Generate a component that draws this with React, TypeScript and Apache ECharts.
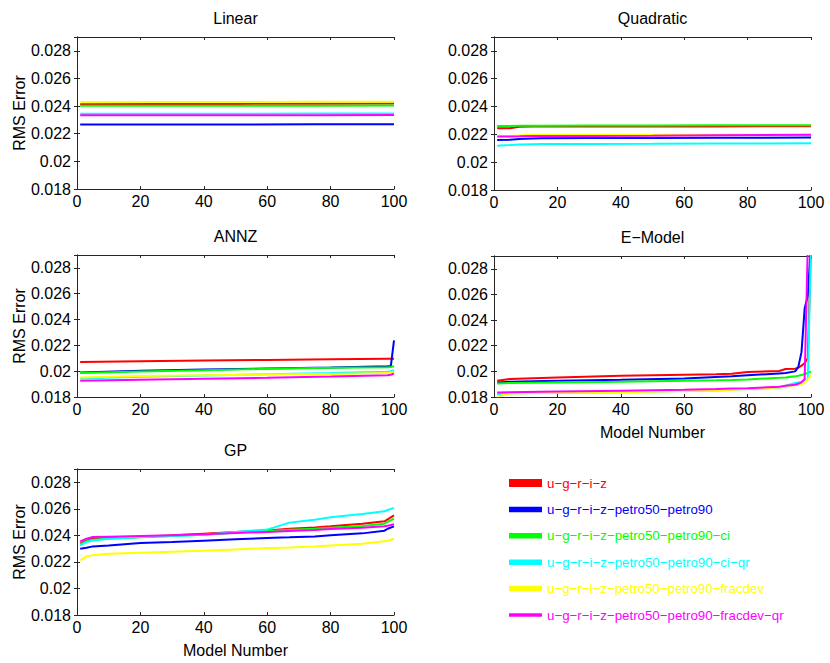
import React, { useEffect, useRef } from "react";
import * as echarts from "echarts";

const seriesNames = [
  "u−g−r−i−z",
  "u−g−r−i−z−petro50−petro90",
  "u−g−r−i−z−petro50−petro90−ci",
  "u−g−r−i−z−petro50−petro90−ci−qr",
  "u−g−r−i−z−petro50−petro90−fracdev",
  "u−g−r−i−z−petro50−petro90−fracdev−qr",
];
const seriesColors = ["#ff0000", "#0000ff", "#00ff00", "#00ffff", "#ffff00", "#ff00ff"];
const legendIcons = [
  "path://M0 0H33V8H0Z",
  "path://M0 0H33V5.5H0Z",
  "path://M0 0H33V5.5H0Z",
  "path://M0 0H33V5.5H0Z",
  "path://M0 0H33V5.5H0Z",
  "path://M0 0H33V3.3H0Z",
];

const panelTitles = ["Linear", "Quadratic", "ANNZ", "E−Model", "GP"];
const xTicks = [0, 20, 40, 60, 80, 100];
const yTicks = [0.018, 0.02, 0.022, 0.024, 0.026, 0.028];
const yMin = 0.018;
const yMax = 0.029;

// Linear
const linearX = [1, 25, 50, 75, 100];
const linearY = [
  [0.02414, 0.02415, 0.02416, 0.02417, 0.02418],
  [0.02266, 0.02267, 0.02267, 0.02268, 0.02268],
  [0.02402, 0.02402, 0.02403, 0.02403, 0.02404],
  [0.02345, 0.02345, 0.02345, 0.02346, 0.02346],
  [0.0243, 0.0243, 0.0243, 0.02431, 0.02431],
  [0.02333, 0.02333, 0.02334, 0.02334, 0.02335],
];

// Quadratic
const quadX = [1, 5, 8, 12, 15, 30, 50, 70, 100];
const quadY = [
  [0.02244, 0.02244, 0.02255, 0.02256, 0.02256, 0.02256, 0.02256, 0.02257, 0.02258],
  [0.0216, 0.02162, 0.02166, 0.0217, 0.02172, 0.02173, 0.02174, 0.02175, 0.02177],
  [0.02261, 0.02261, 0.02262, 0.02262, 0.02262, 0.02263, 0.02264, 0.02265, 0.02266],
  [0.02119, 0.02123, 0.02127, 0.02129, 0.0213, 0.02131, 0.02132, 0.02134, 0.02136],
  [0.02186, 0.02188, 0.02192, 0.02197, 0.02197, 0.02197, 0.02197, 0.02197, 0.02198],
  [0.02184, 0.02185, 0.02186, 0.02188, 0.02189, 0.02189, 0.0219, 0.02193, 0.02198],
];

// ANNZ
const annzX = [1, 20, 40, 60, 80, 98, 99, 100];
const annzY = [
  [0.02072, 0.02077, 0.02082, 0.02087, 0.02092, 0.02096, 0.02096, 0.02097],
  [0.0199, 0.02003, 0.02013, 0.0202, 0.02028, 0.02038, 0.0204, 0.02238],
  [0.01985, 0.01997, 0.02008, 0.02018, 0.02026, 0.02031, 0.02033, 0.02038],
  [0.01944, 0.01956, 0.01967, 0.01977, 0.01985, 0.01995, 0.01999, 0.02008],
  [0.01951, 0.01962, 0.01969, 0.01974, 0.01979, 0.01985, 0.01989, 0.01995],
  [0.01926, 0.01933, 0.01941, 0.01949, 0.01959, 0.01969, 0.01972, 0.01982],
];

// E-Model
const emodelX = [1, 5, 20, 40, 60, 70, 75, 80, 90, 92, 95, 96, 97, 98, 99, 100];
const emodelY = [
  [0.01927, 0.0194, 0.01953, 0.01966, 0.01974, 0.01977, 0.01982, 0.01995, 0.02003, 0.02018, 0.02021, 0.02029, 0.02044, 0.02065, 0.02102, 0.03],
  [0.01914, 0.01919, 0.01927, 0.01935, 0.01945, 0.01956, 0.01961, 0.01969, 0.01984, 0.01987, 0.02, 0.02035, 0.0215, 0.0249, 0.0259, 0.03],
  [0.01906, 0.01909, 0.01914, 0.01919, 0.01927, 0.0193, 0.01932, 0.01937, 0.0195, 0.01953, 0.01961, 0.01966, 0.01971, 0.01979, 0.01987, 0.02],
  [0.01822, 0.01828, 0.01833, 0.01838, 0.01846, 0.01851, 0.01856, 0.01862, 0.01872, 0.01888, 0.01909, 0.01914, 0.01919, 0.01927, 0.0194, 0.03],
  [0.01804, 0.01828, 0.01833, 0.01838, 0.01846, 0.01851, 0.01856, 0.01862, 0.01875, 0.0188, 0.01893, 0.01896, 0.01901, 0.01914, 0.01935, 0.01974],
  [0.01836, 0.01838, 0.01843, 0.01849, 0.01856, 0.01862, 0.01867, 0.01869, 0.0188, 0.01888, 0.01896, 0.01903, 0.01914, 0.0194, 0.03, 0.03],
];

// GP
const gpX = [1, 3, 5, 10, 20, 30, 40, 50, 60, 62, 67, 75, 80, 90, 97, 98, 100];
const gpY = [
  [0.02337, 0.02362, 0.02375, 0.0238, 0.02387, 0.024, 0.02413, 0.02425, 0.02438, 0.0244, 0.0245, 0.0246, 0.02468, 0.02488, 0.02506, 0.02521, 0.02551],
  [0.02299, 0.02307, 0.02317, 0.02324, 0.02342, 0.0235, 0.0236, 0.0237, 0.0238, 0.02382, 0.02385, 0.02392, 0.024, 0.02415, 0.02435, 0.0245, 0.02468],
  [0.02332, 0.02355, 0.02367, 0.02375, 0.02385, 0.02395, 0.02405, 0.0242, 0.02433, 0.02435, 0.02443, 0.0245, 0.02458, 0.02471, 0.02488, 0.02501, 0.02526],
  [0.02324, 0.0235, 0.02362, 0.02375, 0.02387, 0.02395, 0.02405, 0.02425, 0.02445, 0.02458, 0.02496, 0.02518, 0.02536, 0.02561, 0.02581, 0.02591, 0.02607],
  [0.02211, 0.02241, 0.02251, 0.02261, 0.02269, 0.02277, 0.02284, 0.02294, 0.02304, 0.02305, 0.02309, 0.02317, 0.02324, 0.02337, 0.02355, 0.0236, 0.02375],
  [0.02355, 0.02375, 0.02387, 0.0239, 0.02395, 0.024, 0.02408, 0.02418, 0.02425, 0.02427, 0.02433, 0.0244, 0.02448, 0.02458, 0.02468, 0.02473, 0.02483],
];

const panelX = [linearX, quadX, annzX, emodelX, gpX];
const panelY = [linearY, quadY, annzY, emodelY, gpY];

const grids = [
  { left: 77, top: 37, width: 317, height: 152 },
  { left: 494, top: 37, width: 317, height: 153 },
  { left: 77, top: 255, width: 317, height: 142 },
  { left: 494, top: 256, width: 317, height: 141 },
  { left: 77, top: 469, width: 317, height: 146 },
];
const showYName = [true, false, true, false, true];
const showXName = [false, false, false, true, true];

const FONT = "'Liberation Sans', Arial, Helvetica, sans-serif";
const AXIS_COLOR = "#262626";

export default function App() {
  const ref = useRef<HTMLDivElement>(null);
  useEffect(() => {
    if (!ref.current) return;
    const chart = echarts.init(ref.current, undefined, { renderer: "svg" });
    const xAxes: any[] = [];
    const yAxes: any[] = [];
    const series: any[] = [];
    const titles: any[] = [];
    const yFmt = (v: number) => {
      const k = Math.round(v * 1000);
      if (!yTicks.some((t) => Math.round(t * 1000) === k)) return "";
      return String(k / 1000);
    };
    grids.forEach((g, p) => {
      const baseAxis = {
        gridIndex: p,
        axisLine: { show: true, lineStyle: { color: AXIS_COLOR, width: 1 } },
        axisTick: { show: true, inside: true, length: 3, lineStyle: { color: AXIS_COLOR } },
        splitLine: { show: false },
      };
      xAxes.push({
        ...baseAxis,
        type: "value",
        position: "bottom",
        min: xTicks[0],
        max: xTicks[xTicks.length - 1],
        interval: 20,
        axisLabel: { color: "#000", fontSize: 16, fontFamily: FONT, margin: 4 },
        name: showXName[p] ? "Model Number" : "",
        nameLocation: "middle",
        nameGap: 27,
        nameTextStyle: { color: "#000", fontSize: 16, fontFamily: FONT },
      });
      xAxes.push({
        ...baseAxis,
        type: "value",
        position: "top",
        min: xTicks[0],
        max: xTicks[xTicks.length - 1],
        interval: 20,
        axisLabel: { show: false },
      });
      yAxes.push({
        ...baseAxis,
        type: "value",
        position: "left",
        min: yMin,
        max: yMax,
        interval: 0.002,
        axisLabel: {
          color: "#000",
          fontSize: 16,
          fontFamily: FONT,
          margin: 6,
          showMaxLabel: false,
          formatter: yFmt,
        },
        name: showYName[p] ? "RMS Error" : "",
        nameLocation: "middle",
        nameGap: 49,
        nameTextStyle: { color: "#000", fontSize: 16, fontFamily: FONT },
      });
      yAxes.push({
        ...baseAxis,
        type: "value",
        position: "right",
        min: yMin,
        max: yMax,
        interval: 0.002,
        axisLabel: { show: false },
      });
      titles.push({
        text: panelTitles[p],
        left: g.left + g.width / 2,
        top: g.top - 27,
        textAlign: "center",
        padding: 0,
        textStyle: { color: "#000", fontSize: 16, fontWeight: "normal", fontFamily: FONT },
      });
      const xs = panelX[p];
      panelY[p].forEach((ys, s) => {
        series.push({
          type: "line",
          name: seriesNames[s],
          xAxisIndex: p * 2,
          yAxisIndex: p * 2,
          data: xs.map((x, i) => [x, ys[i]]),
          showSymbol: false,
          symbol: "none",
          clip: true,
          color: seriesColors[s],
          lineStyle: { color: seriesColors[s], width: 2 },
          itemStyle: { color: seriesColors[s] },
          z: 2 + s,
        });
      });
    });
    chart.setOption({
      animation: false,
      backgroundColor: "#ffffff",
      title: titles,
      grid: grids.map((g) => ({ ...g, containLabel: false })),
      xAxis: xAxes,
      yAxis: yAxes,
      series,
      legend: {
        orient: "vertical",
        left: 509,
        top: 476,
        itemWidth: 33,
        itemHeight: 8,
        itemGap: 12.4,
        padding: 0,
        selectedMode: false,
        textStyle: { fontSize: 13.3, fontFamily: FONT, lineHeight: 14 },
        data: seriesNames.map((n, i) => ({
          name: n,
          icon: legendIcons[i],
          textStyle: { color: seriesColors[i] },
        })),
      },
    });
    return () => chart.dispose();
  }, []);
  return (
    <div
      ref={ref}
      style={{ position: "fixed", left: 0, top: 0, width: 830, height: 663, background: "#fff" }}
    />
  );
}
